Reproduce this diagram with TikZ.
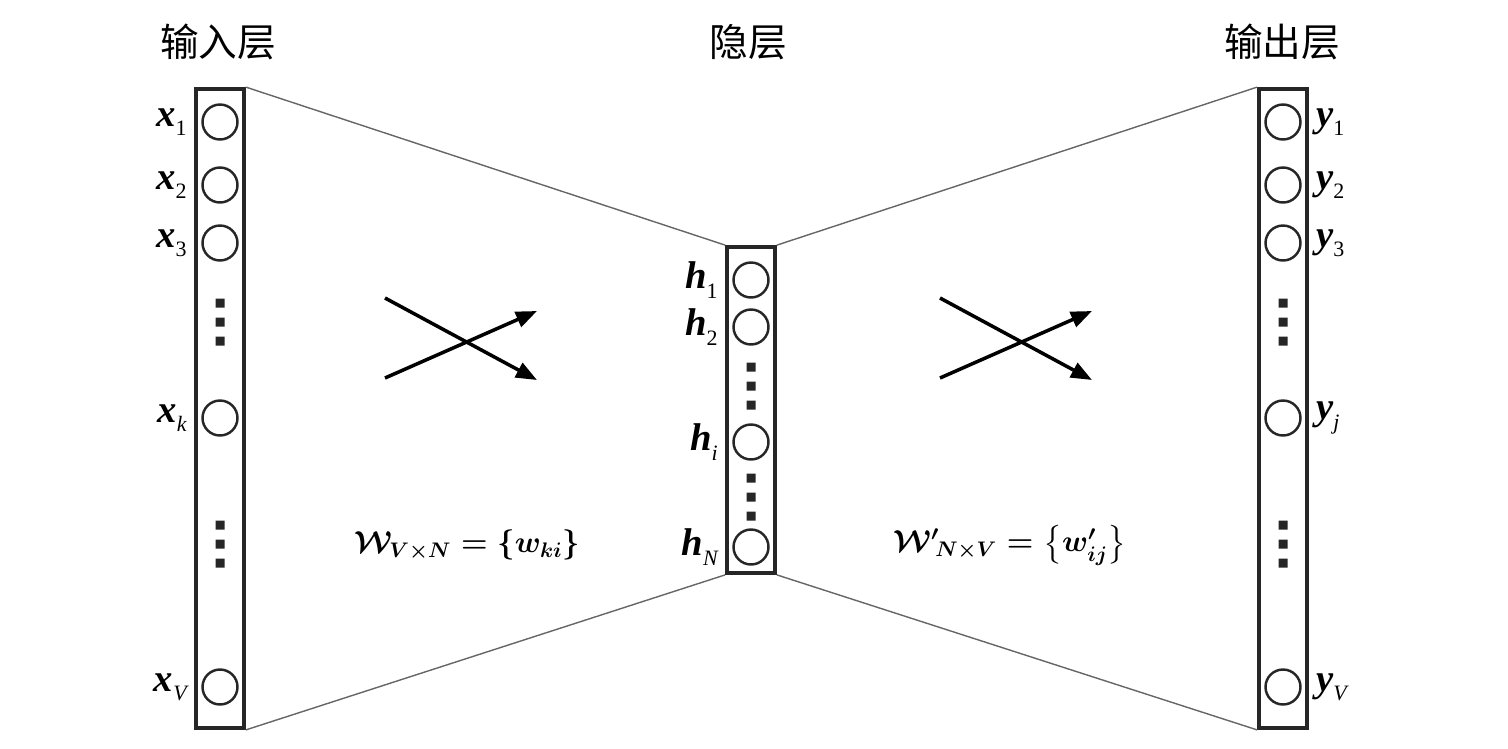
\documentclass[tikz,border=0pt]{standalone}
\usepackage{amsmath,amssymb}
\usepackage{fontspec}
\usepackage{tikz}
\usetikzlibrary{arrows.meta,positioning,calc}
\newfontfamily\cjkfont{Noto Sans CJK SC}
\newfontfamily\labfont{Liberation Serif}
\newcommand{\vlab}[2]{{\labfont\bfseries\itshape #1}\raisebox{-0.55ex}{\labfont\fontsize{12.5}{12.5}\selectfont #2}}
\newcommand{\sqdots}[1]{\fill[black!85] ($(#1)+(-4.5,-23.5)$) rectangle ++(9,9) ($(#1)+(-4.5,-4.5)$) rectangle ++(9,9) ($(#1)+(-4.5,14.5)$) rectangle ++(9,9);}

\begin{document}
\begin{tikzpicture}[x=0.02cm,y=-0.02cm,font=\small,
  layer/.style={draw=black!85,line width=2.2pt,minimum width=0.96cm,inner sep=0},
  unit/.style={circle,draw=black!85,line width=1.4pt,minimum size=0.7cm,inner sep=0},
  xlab/.style={font=\fontsize{22}{22}\selectfont,inner sep=4pt},
  head/.style={font=\cjkfont\fontsize{22}{26}\selectfont},
  link/.style={draw=black!60,line width=0.8pt},
  wt/.style={line width=2pt,-{Triangle[length=0.42cm,width=0.32cm]}},
  eq/.style={font=\fontsize{18.5}{22}\selectfont\boldmath}]
\useasboundingbox (0,0) rectangle (1508,748);
% layers
\node[layer,minimum height=12.78cm] (in) at (220,408.5) {};
\node[layer,minimum height=6.52cm] (hid) at (751,410) {};
\node[layer,minimum height=12.78cm] (out) at (1283,408.5) {};
\node[head] (inhead) at (218,42) {输入层};
\node[head] (hidhead) at (748,42) {隐层};
\node[head] (outhead) at (1282,42) {输出层};
% units
\node[unit] (x1) at (220,122) {};
\node[unit] (x2) at (220,185) {};
\node[unit] (x3) at (220,243) {};
\node[unit] (xk) at (220,418) {};
\node[unit] (xV) at (220,687) {};
\node[unit] (h1) at (751,280) {};
\node[unit] (h2) at (751,327) {};
\node[unit] (hi) at (751,442) {};
\node[unit] (hN) at (751,547) {};
\node[unit] (y1) at (1283,122) {};
\node[unit] (y2) at (1283,185) {};
\node[unit] (y3) at (1283,243) {};
\node[unit] (yj) at (1283,418) {};
\node[unit] (yV) at (1283,687) {};
\coordinate (xdots1) at (220,322);
\coordinate (xdots2) at (220,544);
\coordinate (hdots1) at (751,386);
\coordinate (hdots2) at (751,497);
\coordinate (ydots1) at (1283,322);
\coordinate (ydots2) at (1283,544);
\sqdots{xdots1} \sqdots{xdots2} \sqdots{hdots1} \sqdots{hdots2} \sqdots{ydots1} \sqdots{ydots2}
% unit labels
\node[xlab,anchor=east] (lx1) at (in.west |- x1) {\vlab{x}{1}};
\node[xlab,anchor=east] (lx2) at (in.west |- x2) {\vlab{x}{2}};
\node[xlab,anchor=east] (lx3) at (in.west |- x3) {\vlab{x}{3}};
\node[xlab,anchor=east] (lxk) at (in.west |- xk) {\vlab{x}{\itshape k}};
\node[xlab,anchor=east] (lxV) at (in.west |- xV) {\vlab{x}{\itshape V}};
\node[xlab,anchor=east] (lh1) at (hid.west |- h1) {\vlab{h}{1}};
\node[xlab,anchor=east] (lh2) at (hid.west |- h2) {\vlab{h}{2}};
\node[xlab,anchor=east] (lhi) at (hid.west |- hi) {\vlab{h}{\itshape i}};
\node[xlab,anchor=east] (lhN) at (hid.west |- hN) {\vlab{h}{\itshape N}};
\node[xlab,anchor=west] (ly1) at (out.east |- y1) {\vlab{y}{1}};
\node[xlab,anchor=west] (ly2) at (out.east |- y2) {\vlab{y}{2}};
\node[xlab,anchor=west] (ly3) at (out.east |- y3) {\vlab{y}{3}};
\node[xlab,anchor=west] (lyj) at (out.east |- yj) {\vlab{y}{\itshape j}};
\node[xlab,anchor=west] (lyV) at (out.east |- yV) {\vlab{y}{\itshape V}};
% funnel
\draw[link] (in.north east) -- (hid.north west);
\draw[link] (in.south east) -- (hid.south west);
\draw[link] (hid.north east) -- (out.north west);
\draw[link] (hid.south east) -- (out.south west);
% weights
\coordinate (a1) at (385,298); \coordinate (a2) at (537,380);
\coordinate (a3) at (385,378); \coordinate (a4) at (537,311);
\draw[wt] (a1) -- (a2);
\draw[wt] (a3) -- (a4);
\coordinate (b1) at (940,298); \coordinate (b2) at (1092,380);
\coordinate (b3) at (940,378); \coordinate (b4) at (1092,311);
\draw[wt] (b1) -- (b2);
\draw[wt] (b3) -- (b4);
\node[eq] (win) at (467,545) {$\mathcal{W}_{V\times N}=\{w_{ki}\}$};
\node[eq] (wout) at (1010,545) {${\mathcal{W}'}_{\!N\times V}=\bigl\{w'_{ij}\bigr\}$};
\end{tikzpicture}
\end{document}
